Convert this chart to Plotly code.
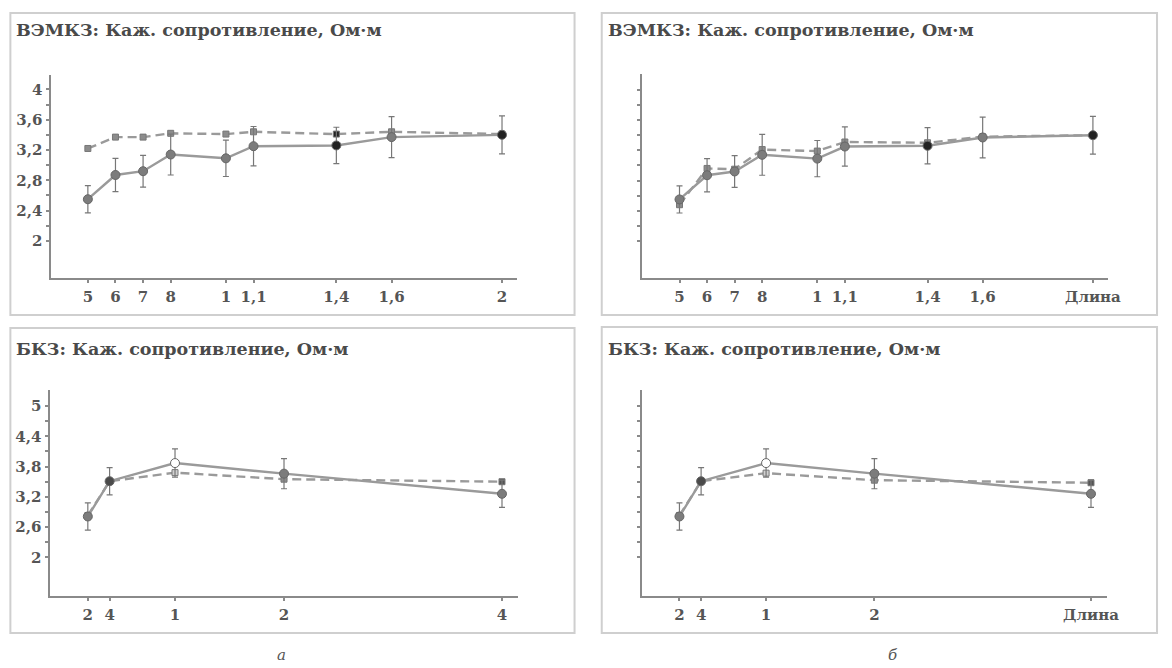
import plotly.graph_objects as go

W, H = 1172, 668

# ---------------- data ----------------
# top row: length (m); tick labels as printed
top_x = [0.5, 0.6, 0.7, 0.8, 1.0, 1.1, 1.4, 1.6, 2.0]
top_xlabels_a = ["5", "6", "7", "8", "1", "1,1", "1,4", "1,6", "2"]
top_xlabels_b = ["5", "6", "7", "8", "1", "1,1", "1,4", "1,6", "Длина"]
top_measured = [2.55, 2.87, 2.92, 3.14, 3.09, 3.25, 3.26, 3.37, 3.40]
top_measured_err = [0.18, 0.22, 0.21, 0.27, 0.24, 0.26, 0.24, 0.27, 0.25]
top_model_a = [3.22, 3.37, 3.37, 3.42, 3.41, 3.44, 3.41, 3.44, 3.41]
top_model_b = [2.48, 2.96, 2.95, 3.21, 3.19, 3.31, 3.30, 3.38, 3.40]
top_yticks = [2.0, 2.2, 2.4, 2.6, 2.8, 3.0, 3.2, 3.4, 3.6, 3.8, 4.0]
top_yticklabels = ["2", "", "2,4", "", "2,8", "", "3,2", "", "3,6", "", "4"]

# bottom row
bot_x = [0.2, 0.4, 1.0, 2.0, 4.0]
bot_xlabels_a = ["2", "4", "1", "2", "4"]
bot_xlabels_b = ["2", "4", "1", "2", "Длина"]
bot_measured = [2.81, 3.51, 3.87, 3.66, 3.26]
bot_measured_err = [0.27, 0.27, 0.28, 0.30, 0.27]
bot_model_a = [2.83, 3.51, 3.68, 3.55, 3.50]
bot_model_b = [2.83, 3.51, 3.67, 3.53, 3.48]
bot_yticks = [2.0, 2.3, 2.6, 2.9, 3.2, 3.5, 3.8, 4.1, 4.4, 4.7, 5.0]
bot_yticklabels = ["2", "", "2,6", "", "3,2", "", "3,8", "", "4,4", "", "5"]

title_top = "ВЭМКЗ: Каж. сопротивление, Ом·м"
title_bot = "БКЗ: Каж. сопротивление, Ом·м"
panel_letters = ["а", "б"]

# ---------------- styles ----------------
AX = "#8a8a8a"
TXT = "#555555"
LINE = "#9a9a9a"
FONT = "DejaVu Serif"

GRAY_M = "#7c7c7c"
DARK_M = "#222222"

top_meas_colors_a = [GRAY_M] * 6 + [DARK_M, GRAY_M, DARK_M]
top_model_colors_a = ["#8c8c8c"] * 6 + [DARK_M, "#8c8c8c", DARK_M]
top_meas_colors_b = [GRAY_M] * 6 + [DARK_M, GRAY_M, DARK_M]
top_model_colors_b = ["#8c8c8c"] * 9
bot_meas_colors = [GRAY_M, "#4a4a4a", "white", GRAY_M, GRAY_M]
bot_model_colors = ["#8c8c8c", "#8c8c8c", "#d0d0d0", "#8c8c8c", "#555555"]


def px_dom_x(a, b):
    return [a / W, b / W]


def px_dom_y(top, bottom):
    return [1 - bottom / H, 1 - top / H]


panels = [
    dict(xd=(52, 523), yd=(75, 278), xr=[0.368, 2.055], yr=[1.51, 4.19],
         x=top_x, xl=top_xlabels_a, yt=top_yticks, yl=top_yticklabels,
         meas=top_measured, err=top_measured_err, model=top_model_a,
         mcol=top_meas_colors_a, modcol=top_model_colors_a),
    dict(xd=(649.5, 1120.5), yd=(74, 278), xr=[0.365, 2.055], yr=[1.51, 4.21],
         x=top_x, xl=top_xlabels_b, yt=top_yticks, yl=[""] * len(top_yticks),
         meas=top_measured, err=top_measured_err, model=top_model_b,
         mcol=top_meas_colors_b, modcol=top_model_colors_b),
    dict(xd=(51, 523.5), yd=(390, 596), xr=[-0.143, 4.144], yr=[1.232, 5.32],
         x=bot_x, xl=bot_xlabels_a, yt=bot_yticks, yl=bot_yticklabels,
         meas=bot_measured, err=bot_measured_err, model=bot_model_a,
         mcol=bot_meas_colors, modcol=bot_model_colors),
    dict(xd=(649.5, 1119), yd=(390, 596), xr=[-0.143, 4.144], yr=[1.232, 5.32],
         x=bot_x, xl=bot_xlabels_b, yt=bot_yticks, yl=[""] * len(bot_yticks),
         meas=bot_measured, err=bot_measured_err, model=bot_model_b,
         mcol=bot_meas_colors, modcol=bot_model_colors),
]

fig = go.Figure()
layout = {}
tickfont = dict(family=FONT, size=15, color=TXT, weight="bold")

for i, p in enumerate(panels, start=1):
    sx = "" if i == 1 else str(i)
    xa, ya = "x" + sx, "y" + sx
    ox, oy = i + 4, i + 4
    # model (dashed)
    fig.add_trace(go.Scatter(
        x=p["x"], y=p["model"], xaxis=xa, yaxis=ya, mode="lines+markers",
        line=dict(color=LINE, width=2.4, dash="9px,5px"),
        marker=dict(symbol="square", size=6, color=p["modcol"],
                    line=dict(color="#777", width=1)),
        showlegend=False, hoverinfo="skip"))
    # measured (solid, with error bars)
    fig.add_trace(go.Scatter(
        x=p["x"], y=p["meas"], xaxis=xa, yaxis=ya, mode="lines+markers",
        line=dict(color=LINE, width=2.4),
        marker=dict(symbol="circle", size=9, color=p["mcol"],
                    line=dict(color="#666", width=1)),
        error_y=dict(type="data", array=p["err"], visible=True,
                     color="#777", thickness=1.2, width=3),
        showlegend=False, hoverinfo="skip"))

    common_x = dict(range=p["xr"], domain=px_dom_x(*p["xd"]),
                    tickmode="array", tickvals=p["x"], showgrid=False,
                    zeroline=False, fixedrange=True)
    common_y = dict(range=p["yr"], domain=px_dom_y(*p["yd"]),
                    tickmode="array", tickvals=p["yt"], showgrid=False,
                    zeroline=False, fixedrange=True)
    layout["xaxis" + sx] = dict(**common_x, anchor=ya, ticktext=p["xl"],
                                showline=True, linecolor=AX, linewidth=2,
                                ticks="outside", ticklen=3, tickwidth=1.5,
                                tickcolor=AX, tickfont=tickfont,
                                ticklabelstandoff=1)
    layout["yaxis" + sx] = dict(**common_y, anchor=xa, ticktext=p["yl"],
                                showline=True, linecolor=AX, linewidth=2,
                                ticks="outside", ticklen=3, tickwidth=1.5,
                                tickcolor=AX, tickfont=tickfont,
                                ticklabelstandoff=1)
    # overlay axes for the inner half of the crossing tick marks
    layout["xaxis%d" % ox] = dict(**common_x, overlaying=xa, anchor=ya,
                                  showline=False, ticks="inside", ticklen=3,
                                  tickwidth=1.5, tickcolor=AX,
                                  showticklabels=False)
    layout["yaxis%d" % oy] = dict(**common_y, overlaying=ya, anchor=xa,
                                  showline=False, ticks="inside", ticklen=3,
                                  tickwidth=1.5, tickcolor=AX,
                                  showticklabels=False)

# frames
frames_px = [(10.5, 13, 581, 315), (608.5, 13, 1170, 315),
             (10.5, 328, 581, 633), (608.5, 327, 1170, 633)]
shapes = []
for (x0, y0, x1, y1) in frames_px:
    shapes.append(dict(type="rect", xref="paper", yref="paper",
                       x0=x0 / W, x1=x1 / W, y0=1 - y1 / H, y1=1 - y0 / H,
                       line=dict(color="#cfcfcf", width=2), layer="below"))

titles = [(title_top, 14, 30), (title_top, 613, 30),
          (title_bot, 14, 349), (title_bot, 613, 349)]
annotations = []
for (t, x, y) in titles:
    annotations.append(dict(text=t, xref="paper", yref="paper", x=x / W,
                            y=1 - y / H, xanchor="left", yanchor="middle",
                            showarrow=False,
                            font=dict(family=FONT, size=17.5, color="#4a4a4a",
                                      weight="bold")))
for letter, x in zip(panel_letters, [285, 903]):
    annotations.append(dict(text=letter, xref="paper", yref="paper",
                            x=x / W, y=1 - 655 / H, xanchor="center",
                            yanchor="middle", showarrow=False,
                            font=dict(family=FONT, size=15, color=TXT,
                                      style="italic")))

fig.update_layout(
    width=W, height=H, autosize=False,
    margin=dict(l=0, r=0, t=0, b=0),
    paper_bgcolor="white", plot_bgcolor="rgba(0,0,0,0)",
    shapes=shapes, annotations=annotations, showlegend=False,
    **layout)

fig.write_html("out.html", config={"displayModeBar": False},
               post_script="document.body.style.margin='0';"
                           "document.body.style.overflow='hidden';")
